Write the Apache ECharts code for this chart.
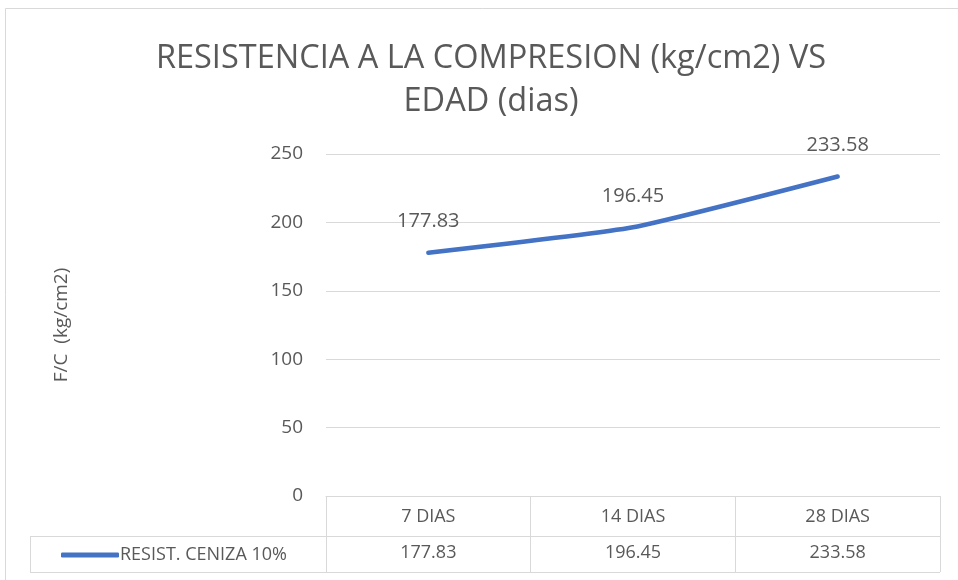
<!DOCTYPE html>
<html lang="es">
<head>
<meta charset="UTF-8" />
<title>Resistencia a la compresion</title>
<style>
  html, body { margin: 0; padding: 0; background: #fff; }
  #main { width: 958px; height: 580px; }
</style>
</head>
<body>
<div id="main"></div>
<script src="https://cdn.jsdelivr.net/npm/echarts@6/dist/echarts.min.js"></script>
<script>
var categories = ["7 DIAS", "14 DIAS", "28 DIAS"];
var resistencia = [177.83, 196.45, 233.58];
var seriesName = "RESIST. CENIZA 10%";
var yTicks = { min: 0, max: 250, interval: 50 };

var font = "'Open Sans', sans-serif";
var txt = "#595959";
var grey = "#d9d9d9";

var chart = echarts.init(document.getElementById("main"));

chart.setOption({
  animation: false,
  textStyle: { fontFamily: font },
  title: {
    text: "RESISTENCIA A LA COMPRESION (kg/cm2) VS\nEDAD (dias)",
    left: 486,
    textAlign: "center",
    top: 32,
    textStyle: { fontSize: 32.5, fontWeight: "normal", color: txt, lineHeight: 43, fontFamily: font }
  },
  legend: {
    left: 56,
    top: 541,
    icon: "roundRect",
    itemWidth: 58,
    itemHeight: 5,
    textStyle: { fontSize: 18, color: txt, fontFamily: font, padding: [0, 0, 0, -4] },
    data: [seriesName]
  },
  grid: { left: 326, right: 18, top: 154, bottom: 84 },
  xAxis: [
    {
      type: "category",
      data: categories,
      boundaryGap: true,
      axisLine: { lineStyle: { color: grey, width: 1 } },
      axisTick: { show: true, length: 76, lineStyle: { color: grey } },
      axisLabel: { color: txt, fontSize: 18, margin: 12, fontFamily: font }
    },
    {
      type: "category",
      position: "bottom",
      offset: 40,
      data: resistencia.map(function (v) { return v.toFixed(2); }),
      boundaryGap: true,
      axisLine: { show: false },
      axisTick: { show: false },
      axisLabel: { color: txt, fontSize: 18, margin: 8, fontFamily: font }
    }
  ],
  yAxis: {
    type: "value",
    min: yTicks.min,
    max: yTicks.max,
    interval: yTicks.interval,
    name: "F/C  (kg/cm2)",
    nameLocation: "middle",
    nameGap: 255,
    nameTextStyle: { fontSize: 19, color: txt, fontFamily: font },
    axisLine: { show: false },
    axisTick: { show: false },
    axisLabel: { color: txt, fontSize: 19, margin: 23, fontFamily: font },
    splitLine: { lineStyle: { color: grey, width: 1 } }
  },
  series: [
    {
      name: seriesName,
      type: "line",
      data: resistencia,
      symbol: "circle",
      symbolSize: 0.1,
      showSymbol: true,
      smooth: 0.15,
      lineStyle: { color: "#4472c4", width: 4.5, cap: "round" },
      itemStyle: { color: "#4472c4" },
      label: {
        show: true,
        position: "top",
        distance: 21,
        color: txt,
        fontSize: 20,
        fontFamily: font,
        formatter: function (p) { return p.value.toFixed(2); }
      }
    }
  ],
  graphic: [
    { type: "rect", shape: { x: 5.5, y: 8.5, width: 970, height: 600 }, style: { fill: null, stroke: grey, lineWidth: 1 }, silent: true },
    { type: "line", shape: { x1: 30, y1: 536.5, x2: 940, y2: 536.5 }, style: { stroke: grey, lineWidth: 1 }, silent: true },
    { type: "line", shape: { x1: 30, y1: 572.5, x2: 940, y2: 572.5 }, style: { stroke: grey, lineWidth: 1 }, silent: true },
    { type: "line", shape: { x1: 30.5, y1: 536, x2: 30.5, y2: 573 }, style: { stroke: grey, lineWidth: 1 }, silent: true }
  ]
});
</script>
</body>
</html>
